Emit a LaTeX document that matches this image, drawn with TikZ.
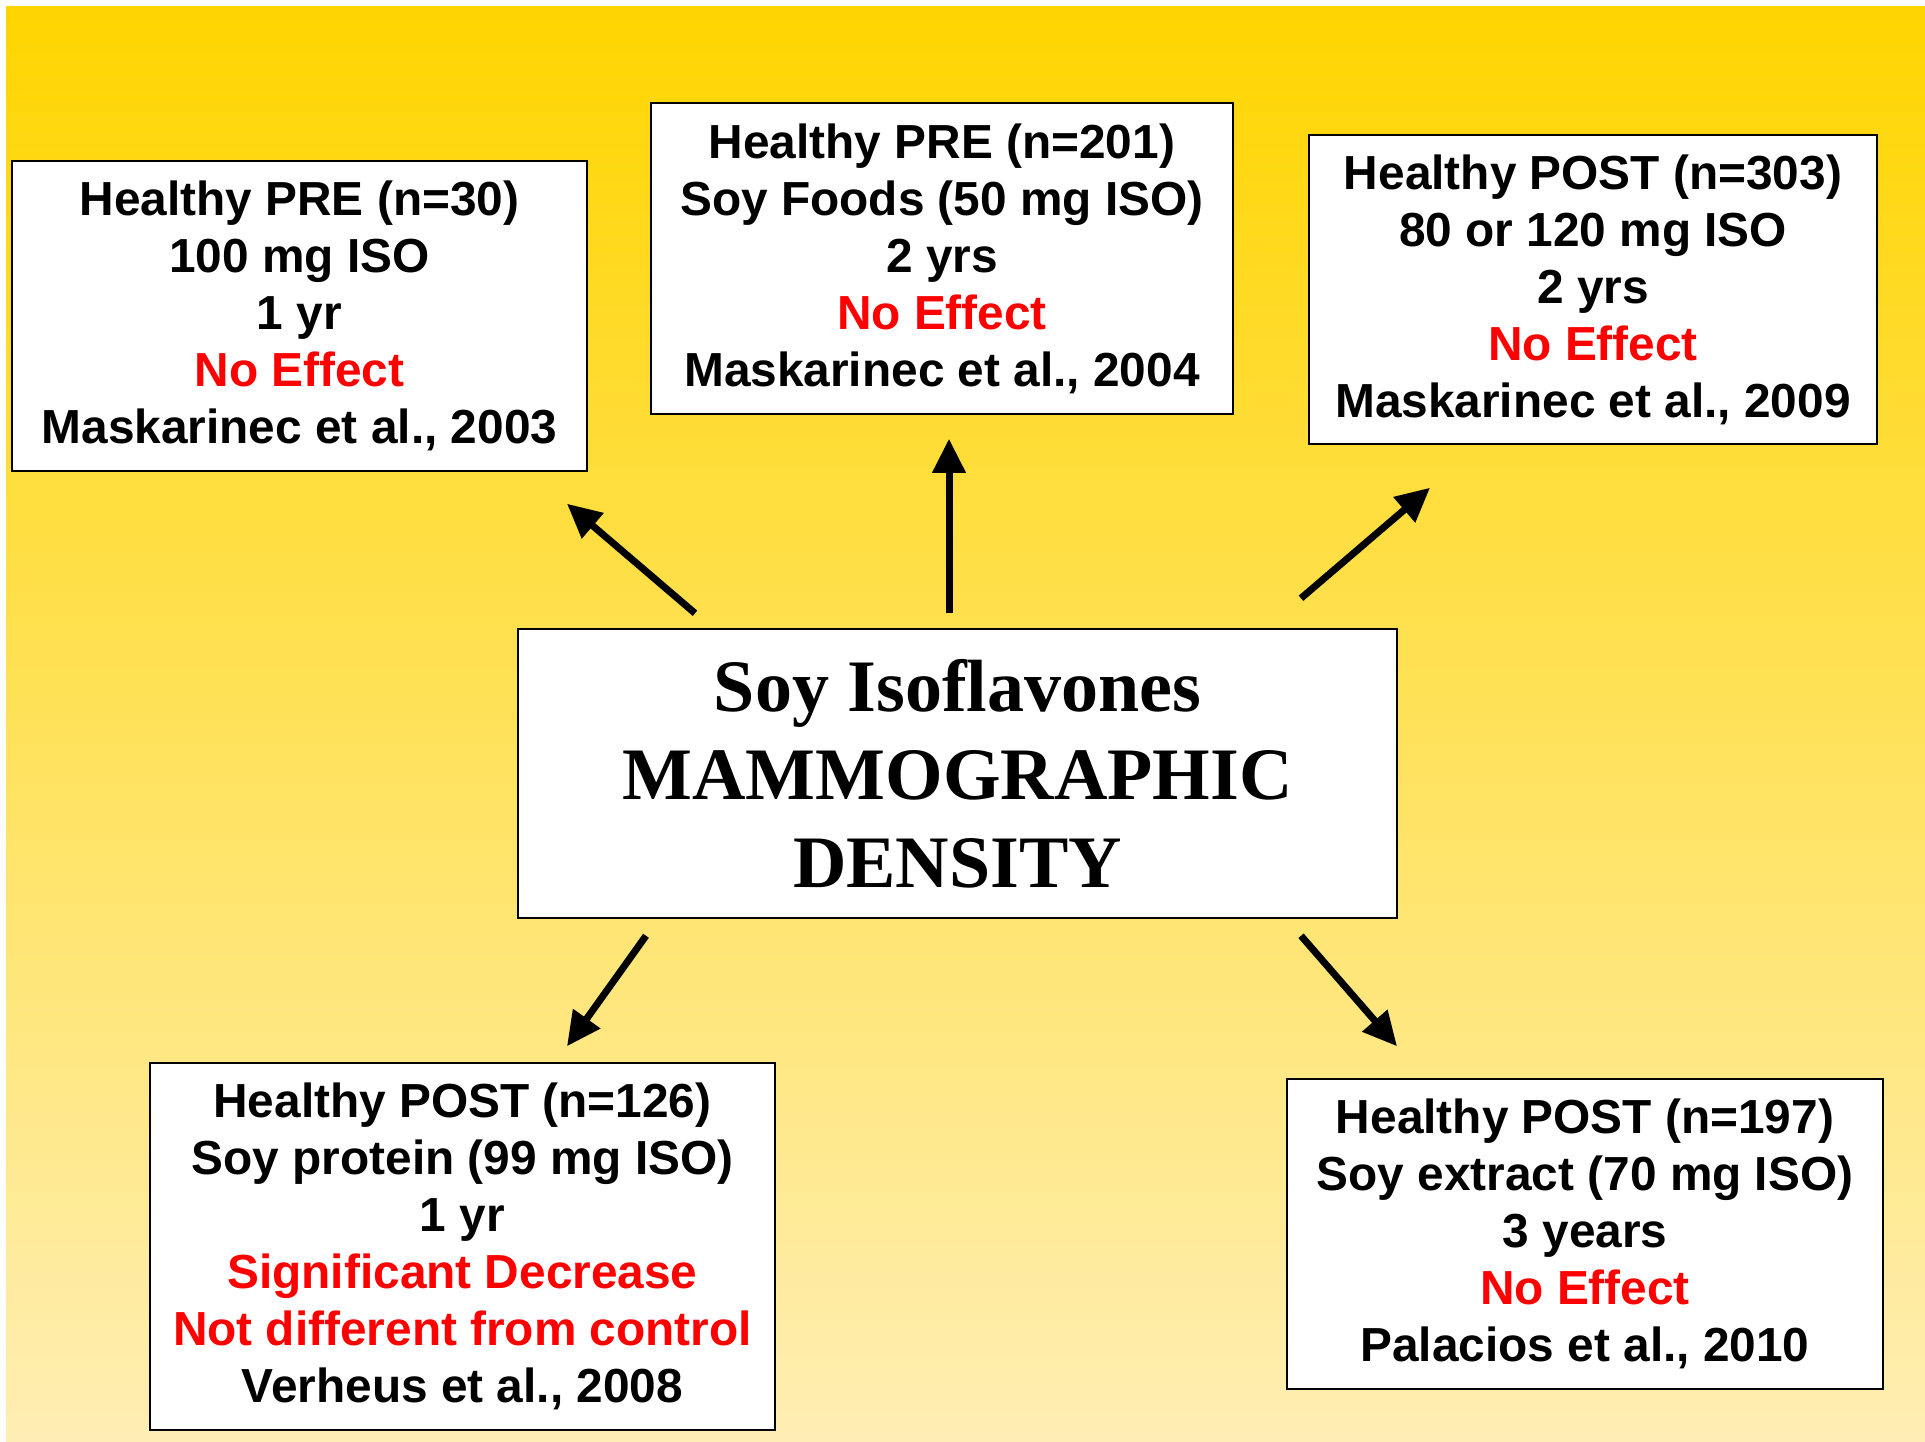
\documentclass[tikz,border=0pt]{standalone}
\usepackage{fontspec}
\setmainfont{Liberation Sans}
\newfontfamily\titlefont{Liberation Serif}
\usetikzlibrary{arrows.meta}
\definecolor{bgTop}{HTML}{FFD500}
\definecolor{bgBottom}{HTML}{FFEEB4}
\definecolor{noeff}{HTML}{FF0000}

\begin{document}
\begin{tikzpicture}[x=1pt,y=-1pt,
  study/.style={draw=black,fill=white,line width=1.5pt,inner sep=0pt,align=center,
                font=\bfseries\fontsize{47.8}{57}\selectfont},
  core/.style={draw=black,fill=white,line width=1.5pt,inner sep=0pt,align=center,
               font=\titlefont\bfseries\fontsize{74}{88}\selectfont},
  arr/.style={-{Triangle[length=34pt,width=32pt]},line width=7pt,draw=black}]
  \useasboundingbox (0,0) rectangle (1925,1442);
  \shade[top color=bgTop,bottom color=bgBottom] (6,7) rectangle (1925,1442);
  \node[core,minimum width=879pt,minimum height=289pt] (core) at (957.5,773.5)
       {Soy Isoflavones\\MAMMOGRAPHIC\\DENSITY};
  \node[study,minimum width=575pt,minimum height=310pt] (pre30) at (299.5,316)
       {Healthy PRE (n=30)\\100 mg ISO\\1 yr\\\textcolor{noeff}{No Effect}\\Maskarinec et al., 2003};
  \node[study,minimum width=582pt,minimum height=311pt] (pre201) at (942,258.5)
       {Healthy PRE (n=201)\\Soy Foods (50 mg ISO)\\2 yrs\\\textcolor{noeff}{No Effect}\\Maskarinec et al., 2004};
  \node[study,minimum width=568pt,minimum height=309pt] (post303) at (1593,289.5)
       {Healthy POST (n=303)\\80 or 120 mg ISO\\2 yrs\\\textcolor{noeff}{No Effect}\\Maskarinec et al., 2009};
  \node[study,minimum width=625pt,minimum height=367pt] (post126) at (462.5,1246.5)
       {Healthy POST (n=126)\\Soy protein (99 mg ISO)\\1 yr\\\textcolor{noeff}{Significant Decrease}\\\textcolor{noeff}{Not different from control}\\Verheus et al., 2008};
  \node[study,minimum width=596pt,minimum height=310pt] (post197) at (1585,1234)
       {Healthy POST (n=197)\\Soy extract (70 mg ISO)\\3 years\\\textcolor{noeff}{No Effect}\\Palacios et al., 2010};
  \draw[arr] ([shift={(-262.5,-15)}]core.north) -- ([shift={(267.5,32)}]pre30.south);
  \draw[arr] ([shift={(-8.5,-15)}]core.north) -- ([shift={(7,24)}]pre201.south);
  \draw[arr] ([shift={(343.5,-30)}]core.north) -- ([shift={(-163,43)}]post303.south);
  \draw[arr] ([shift={(-311.5,17)}]core.south) -- ([shift={(104.5,-16)}]post126.north);
  \draw[arr] ([shift={(343.5,17)}]core.south) -- ([shift={(-188,-32)}]post197.north);
\end{tikzpicture}
\end{document}
